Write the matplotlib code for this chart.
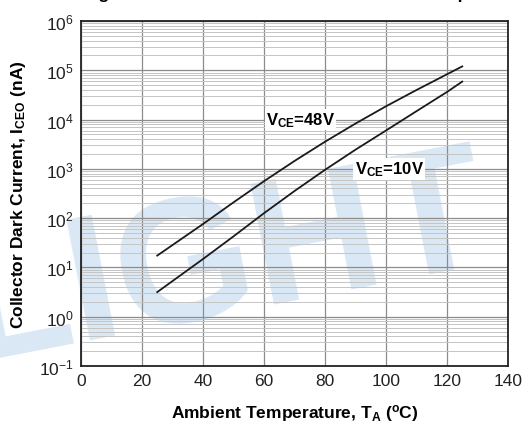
import matplotlib
matplotlib.use("Agg")
import matplotlib.pyplot as plt
from matplotlib.ticker import LogLocator, FuncFormatter, NullFormatter
import math

plt.rcParams['font.family'] = ['Liberation Sans', 'DejaVu Sans']
plt.rcParams['mathtext.fontset'] = 'custom'
plt.rcParams['mathtext.rm'] = 'Liberation Sans'
plt.rcParams['mathtext.bf'] = 'Liberation Sans:bold'
plt.rcParams['mathtext.default'] = 'regular'
plt.rcParams['axes.unicode_minus'] = False

# Data
temp_48 = [25, 40, 50, 60, 70, 80, 90, 100, 110, 120, 125]
iceo_48 = [17.4, 76, 209, 562, 1445, 3550, 8300, 18600, 39800, 83000, 120000]
temp_10 = [25, 40, 50, 60, 70, 80, 90, 100, 110, 120, 125]
iceo_10 = [3.16, 14.8, 42.7, 126, 355, 955, 2450, 6000, 14800, 36300, 59000]
x_ticks = [0, 20, 40, 60, 80, 100, 120, 140]
label_48 = r'V$_{\mathbf{CE}}$=48V'
label_10 = r'V$_{\mathbf{CE}}$=10V'

W, H = 528, 435
fig = plt.figure(figsize=(W / 100, H / 100), dpi=100)
ax = fig.add_axes([81 / W, 1 - 367 / H, (508 - 81) / W, (367 - 22) / H])
ax.set_facecolor('none')

# watermark (behind the axes)
fig.text(225 / W, 1 - 265 / H, 'LIGHT', fontsize=128, fontweight='bold',
         color='#dae8f5', rotation=11, ha='center', va='center', zorder=-5)

ax.plot(temp_48, iceo_48, color='#1a1a1a', lw=1.3, zorder=3)
ax.plot(temp_10, iceo_10, color='#1a1a1a', lw=1.3, zorder=3)

ax.set_yscale('log')
ax.set_xlim(0, 140)
ax.set_ylim(1e-1, 1e6)
ax.set_xticks(x_ticks)
ax.yaxis.set_major_locator(LogLocator(base=10, numticks=20))
ax.yaxis.set_minor_locator(LogLocator(base=10, subs=range(2, 10), numticks=20))
ax.yaxis.set_minor_formatter(NullFormatter())


def fmt(v, pos):
    e = int(round(math.log10(v)))
    return r'$\mathregular{10^{%d}}$' % e


ax.yaxis.set_major_formatter(FuncFormatter(fmt))

ax.grid(True, which='major', axis='both', color='#8c8c8c', lw=0.9, zorder=1)
ax.grid(True, which='minor', axis='y', color='#c4c4c4', lw=0.7, zorder=1)
ax.set_axisbelow(True)

ax.tick_params(which='both', length=0, labelsize=12.5, colors='#222222', pad=5)
for s in ax.spines.values():
    s.set_color('#222222')
    s.set_linewidth(1.3)

ax.text(72, 1.0e4, label_48, fontsize=12, fontweight='bold', ha='center', va='center',
        bbox=dict(facecolor='white', edgecolor='none', pad=1), zorder=4)
ax.text(101, 1.0e3, label_10, fontsize=12, fontweight='bold', ha='center', va='center',
        bbox=dict(facecolor='white', edgecolor='none', pad=1), zorder=4)

ax.set_xlabel(r'Ambient Temperature, T$_{\mathbf{A}}$ ($^{\mathbf{o}}$C)', fontsize=12.5,
              fontweight='bold', labelpad=10)
ax.set_ylabel(r'Collector Dark Current, I$_{\mathbf{CEO}}$ (nA)', fontsize=12.5,
              fontweight='bold', labelpad=8)

# title cut off by the top edge
fig.text(83 / W, 1.0 + 1 / H, 'Fig.4 Collector Dark Current vs. Ambient Temperature',
         fontsize=12.5, fontweight='bold', ha='left', va='baseline')

fig.savefig('out.png', dpi=100)
